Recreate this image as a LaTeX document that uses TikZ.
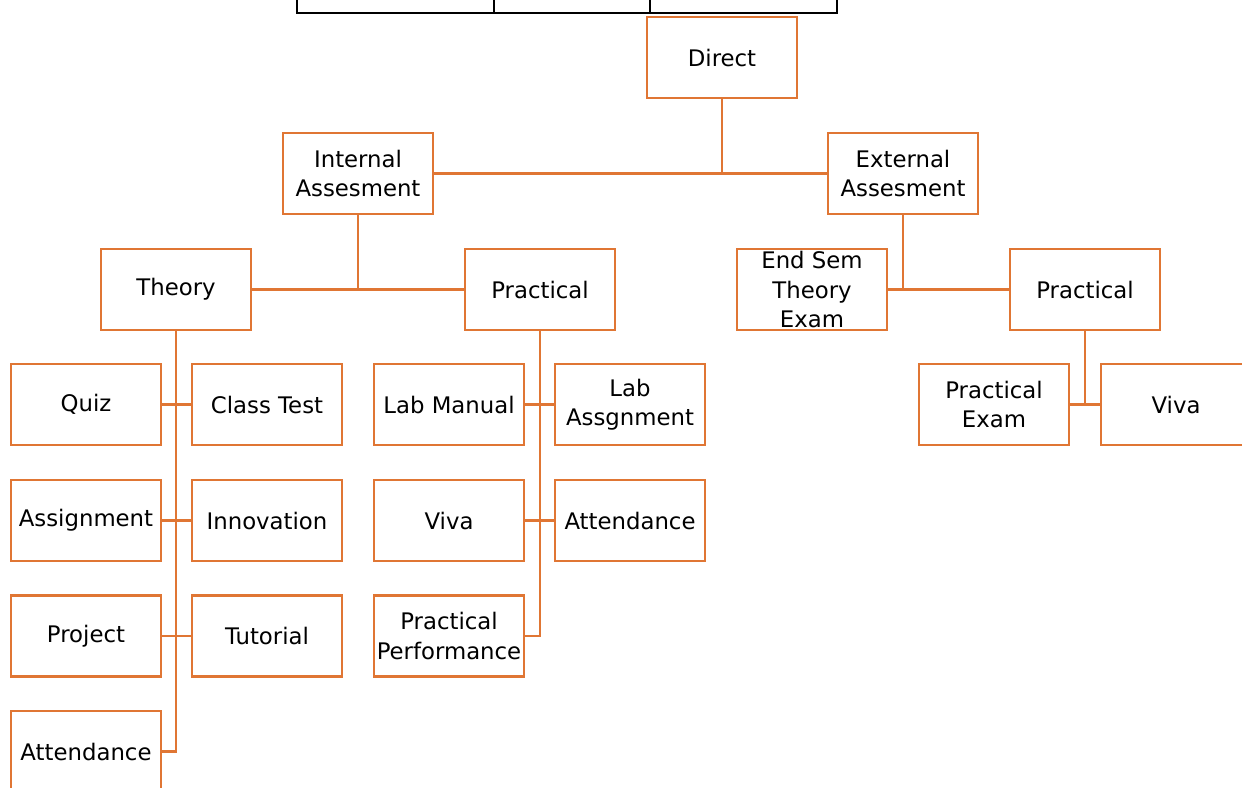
\documentclass[tikz,border=0pt]{standalone}
\usepackage{fontspec}
\setmainfont{DejaVu Sans}
\definecolor{boxorange}{RGB}{224,118,52}
\tikzset{
  box/.style={draw=boxorange, line width=1.2pt, minimum width=75pt, minimum height=40.5pt,
    inner sep=1pt, align=center, font=\fontsize{11.4}{14.7}\selectfont},
  link/.style={draw=boxorange, line width=1.2pt},
  tabline/.style={draw=black, line width=1.1pt}
}
\begin{document}
\begin{tikzpicture}[x=0.5pt, y=-0.5pt]
	%%%%% frame %%%%%
	\useasboundingbox (0, 0) rectangle (1242, 787);
	\clip (0, 0) rectangle (1242, 787);
	
	% table fragment at the top
	\draw[tabline] (297, -5) -- (297, 13) -- (837, 13) -- (837, -5);
	\draw[tabline] (494, -5) -- (494, 13);
	\draw[tabline] (650, -5) -- (650, 13);
	
	%%%%% levels 1-3 %%%%%
	\node[box] (direct) at (722, 57.5) {Direct};
	\node[box] (internal) at (358, 173.5) {Internal\\Assesment};
	\node[box] (external) at (903, 173.5) {External\\Assesment};
	
	\node[box] (theory) at (176, 289.5) {Theory};
	\node[box] (ipract) at (540, 289.5) {Practical};
	\node[box] (endsem) at (812, 289.5) {End Sem\\Theory\\Exam};
	\node[box] (epract) at (1085, 289.5) {Practical};
	
	%%%%% leaves %%%%%
	\node[box] (quiz) at (86, 404.5) {Quiz};
	\node[box] (ctest) at (267, 404.5) {Class Test};
	\node[box] (assign) at (86, 520.5) {Assignment};
	\node[box] (innov) at (267, 520.5) {Innovation};
	\node[box] (project) at (86, 636) {Project};
	\node[box] (tutor) at (267, 636) {Tutorial};
	\node[box] (tattend) at (86, 751.5) {Attendance};
	
	\node[box] (labman) at (449, 404.5) {Lab Manual};
	\node[box] (labasg) at (630, 404.5) {Lab\\Assgnment};
	\node[box] (iviva) at (449, 520.5) {Viva};
	\node[box] (pattend) at (630, 520.5) {Attendance};
	\node[box] (pperf) at (449, 636) {Practical\\Performance};
	
	\node[box] (pexam) at (994, 404.5) {Practical\\Exam};
	\node[box] (eviva) at (1176, 404.5) {Viva};
	
	%%%%% connectors %%%%%
	\draw[link] (internal.east) -- (external.west);
	\draw[link] (direct.south) -- (direct.south |- internal.east);
	
	\draw[link] (theory.east) -- (ipract.west);
	\draw[link] (internal.south) -- (internal.south |- theory.east);
	\draw[link] (endsem.east) -- (epract.west);
	\draw[link] (external.south) -- (external.south |- endsem.east);
	
	\draw[link] (theory.south) -- (theory.south |- tattend.east) -- (tattend.east);
	\draw[link] (quiz.east) -- (ctest.west);
	\draw[link] (assign.east) -- (innov.west);
	\draw[link] (project.east) -- (tutor.west);
	
	\draw[link] (ipract.south) -- (ipract.south |- pperf.east) -- (pperf.east);
	\draw[link] (labman.east) -- (labasg.west);
	\draw[link] (iviva.east) -- (pattend.west);
	
	\draw[link] (epract.south) -- (epract.south |- pexam.east);
	\draw[link] (pexam.east) -- (eviva.west);
\end{tikzpicture}
\end{document}
